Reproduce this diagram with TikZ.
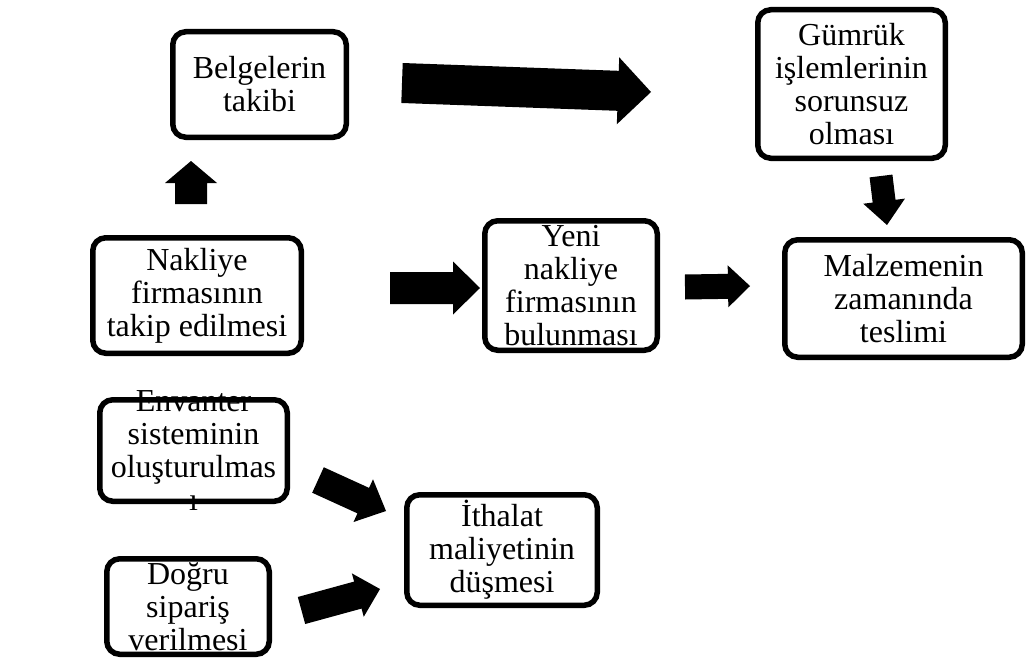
\documentclass[tikz,border=0pt]{standalone}
\usepackage{fontspec}
\setmainfont{Liberation Serif}
\usetikzlibrary{calc}
\tikzset{
  box/.style={draw=black, line width=5.5pt, rounded corners=13pt, fill=white, inner sep=0pt},
  txt/.style={align=center, inner sep=0pt, font=\fontsize{32}{33}\selectfont},
  arrowfill/.style={fill=black},
}
% block arrow from tail #1 to tip #2; #3 half shaft width, #4 half head width, #5 head length
\newcommand\blockarrow[5]{%
  \coordinate (ba-base) at ($(#2)!#5!(#1)$);
  \fill[arrowfill] ($(#1)!#3!90:(#2)$) -- ($(ba-base)!#3!90:(#2)$) -- ($(ba-base)!#4!90:(#2)$)
    -- (#2) -- ($(ba-base)!#4!-90:(#2)$) -- ($(ba-base)!#3!-90:(#2)$) -- ($(#1)!#3!-90:(#2)$) -- cycle;
}
\begin{document}
\begin{tikzpicture}[x=1pt,y=-1pt]
\useasboundingbox (0,0) rectangle (1027,658);

% boxes
\node[box, minimum width=173.5pt, minimum height=105.5pt] (bel) at (259.5,84.5) {};
\node[box, minimum width=187.5pt, minimum height=148.5pt] (gum) at (851.5,84) {};
\node[box, minimum width=208.5pt, minimum height=115.5pt] (nak) at (197,295.5) {};
\node[box, minimum width=172.5pt, minimum height=129.5pt] (yeni) at (571,285.5) {};
\node[box, minimum width=237.5pt, minimum height=117.5pt] (malz) at (903.5,298.5) {};
\node[box, minimum width=187.5pt, minimum height=101.5pt] (env) at (193.5,450.5) {};
\node[box, minimum width=162.5pt, minimum height=95.5pt] (dog) at (188,606.5) {};
\node[box, minimum width=190.5pt, minimum height=110.5pt] (ith) at (502,550) {};

% texts
\node[txt] (bel-t) at (bel) {Belgelerin\\takibi};
\node[txt] (gum-t) at (gum) {Gümrük\\işlemlerinin\\sorunsuz\\olması};
\node[txt] (nak-t) at (nak) {Nakliye\\firmasının\\takip edilmesi};
\node[txt] (yeni-t) at (yeni) {Yeni\\nakliye\\firmasının\\bulunması};
\node[txt] (malz-t) at (malz) {Malzemenin\\zamanında\\teslimi};
\node[txt] (env-t) at (env) {Envanter\\sisteminin\\oluşturulmas\\ı};
\node[txt] (dog-t) at (dog) {Doğru\\sipariş\\verilmesi};
\node[txt] (ith-t) at (ith) {İthalat\\maliyetinin\\düşmesi};

% block arrows
\coordinate (up-s) at (191,204);   \coordinate (up-e) at (191,161);
\coordinate (big-s) at (402,83);   \coordinate (big-e) at (651,92);
\coordinate (ny-s) at (390,288);   \coordinate (ny-e) at (480,288);
\coordinate (ym-s) at (685,287);   \coordinate (ym-e) at (750,286);
\coordinate (gm-s) at (881,176);   \coordinate (gm-e) at (887,225);
\coordinate (ei-s) at (318,480);   \coordinate (ei-e) at (386,511);
\coordinate (di-s) at (301.5,610.5); \coordinate (di-e) at (380,589);

\blockarrow{up-s}{up-e}{16pt}{26pt}{22pt}
\blockarrow{big-s}{big-e}{20pt}{33.5pt}{33pt}
\blockarrow{ny-s}{ny-e}{16pt}{26.5pt}{27pt}
\blockarrow{ym-s}{ym-e}{12.5pt}{21pt}{22pt}
\blockarrow{gm-s}{gm-e}{11.5pt}{21pt}{24pt}
\blockarrow{ei-s}{ei-e}{14pt}{23.5pt}{25pt}
\blockarrow{di-s}{di-e}{14pt}{22.5pt}{23pt}
\end{tikzpicture}
\end{document}
